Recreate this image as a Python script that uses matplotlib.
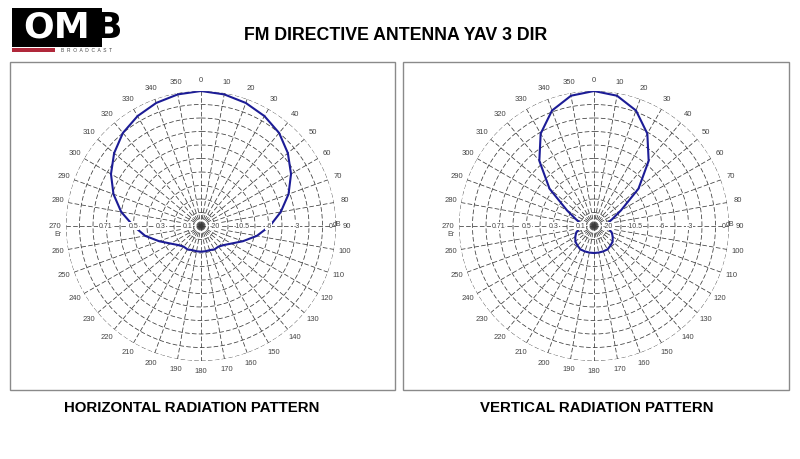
import numpy as np
import matplotlib.pyplot as plt
from matplotlib.patches import Rectangle

plt.rcParams['font.family'] = ['Liberation Sans', 'DejaVu Sans']

# angles (deg, clockwise from north) and relative field values
angles = list(range(0, 360, 10))
horiz = [1.00, 0.99, 0.97, 0.94, 0.90, 0.84, 0.77, 0.69, 0.60, 0.51,
         0.42, 0.33, 0.26, 0.22, 0.20, 0.20, 0.19, 0.19, 0.19, 0.19,
         0.19, 0.20, 0.20, 0.22, 0.26, 0.33, 0.42, 0.50, 0.60, 0.69,
         0.77, 0.84, 0.90, 0.94, 0.97, 0.99]
vert = [1.00, 0.98, 0.91, 0.79, 0.63, 0.43, 0.23, 0.14, 0.10, 0.09,
        0.11, 0.14, 0.16, 0.18, 0.19, 0.20, 0.20, 0.20, 0.20, 0.20,
        0.20, 0.20, 0.19, 0.18, 0.16, 0.14, 0.11, 0.09, 0.10, 0.14,
        0.23, 0.43, 0.63, 0.79, 0.91, 0.98]
rings = [0.1, 0.2, 0.3, 0.4, 0.5, 0.6, 0.7, 0.8, 0.9, 1.0]
field_labels = [(0.71, '0.71'), (0.5, '0.5'), (0.3, '0.3'), (0.1, '0.1')]
db_labels = [(0.71, '-3'), (0.5, '-6'), (0.3, '-10.5'), (0.1, '-20')]

title = 'FM DIRECTIVE ANTENNA YAV 3 DIR'
panel_titles = ['HORIZONTAL RADIATION PATTERN', 'VERTICAL RADIATION PATTERN']

W, H = 800, 459
fig = plt.figure(figsize=(8, 4.59), dpi=100)
fig.patch.set_facecolor('white')


def fx(px):
    return px / W


def fy(py):
    return 1 - py / H


# logo
fig.patches.append(Rectangle((fx(12), fy(47)), fx(90), 39 / H, transform=fig.transFigure,
                             facecolor='black', edgecolor='none'))
fig.text(fx(57), fy(28), 'OM', color='white', fontsize=26, fontweight='bold',
         ha='center', va='center', family='DejaVu Sans')
fig.text(fx(108), fy(28), 'B', color='black', fontsize=26, fontweight='bold',
         ha='center', va='center', family='DejaVu Sans')
fig.patches.append(Rectangle((fx(12), fy(52)), fx(43), 4 / H, transform=fig.transFigure,
                             facecolor='#b0283a', edgecolor='none'))
fig.text(fx(87), fy(50), 'B  R  O  A  D  C  A  S  T', color='#444444', fontsize=3.5,
         ha='center', va='center')

fig.text(fx(396), fy(35), title, fontsize=12.8, fontweight='bold', ha='center', va='center')

panels = [(10, 395, 201, 192, horiz), (403, 789, 594, 597, vert)]
theta_fine = np.linspace(0, 2 * np.pi, 361)

for (x0, x1, cx, tx, values), ptitle in zip(panels, panel_titles):
    fig.patches.append(Rectangle((fx(x0), fy(390)), fx(x1 - x0), 328 / H,
                                 transform=fig.transFigure, facecolor='none',
                                 edgecolor='#8a8a8a', linewidth=1))
    fig.text(fx(tx), fy(408), ptitle, fontsize=10.8, fontweight='bold',
             ha='center', va='center')

    R = 135
    ax = fig.add_axes([fx(cx - R), fy(226 + R), 2 * R / W, 2 * R / H], projection='polar')
    ax.set_theta_zero_location('N')
    ax.set_theta_direction(-1)
    ax.set_ylim(0, 1)
    ax.axis('off')

    for r in rings:
        ax.plot(theta_fine, np.full_like(theta_fine, r), color='#3a3a3a', lw=0.55,
                dashes=(6, 3))
    for a in angles:
        t = np.deg2rad(a)
        ax.plot([t, t], [0, 1], color='#3a3a3a', lw=0.55, dashes=(6, 3))
        ax.text(t, 1.08, str(a), fontsize=5.5, color='#444444', ha='center',
                va='center', clip_on=False)

    for r, lab in field_labels:
        ax.text(np.deg2rad(270), r, lab, fontsize=5, color='#444444', ha='center',
                va='center', clip_on=False,
                bbox=dict(facecolor='white', edgecolor='none', pad=0.3))
    for r, lab in db_labels:
        ax.text(np.deg2rad(90), r, lab, fontsize=5, color='#444444', ha='center',
                va='center', clip_on=False,
                bbox=dict(facecolor='white', edgecolor='none', pad=0.3))
    ax.text(np.deg2rad(90), 0.96, '0', fontsize=5, color='#444444', ha='center', va='center')
    ax.text(np.deg2rad(88), 1.01, 'dB', fontsize=5, color='#444444', ha='center',
            va='top', clip_on=False)
    ax.text(np.deg2rad(268), 1.06, 'Er', fontsize=5, color='#444444', ha='center',
            va='top', clip_on=False)

    th = np.deg2rad(angles + [angles[0]])
    rv = values + [values[0]]
    ax.plot(th, rv, color='#1c1c96', lw=1.5)

fig.savefig('out.png', dpi=100)
